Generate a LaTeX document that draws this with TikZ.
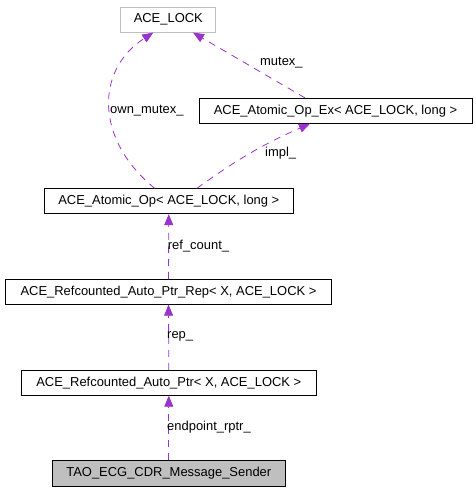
\documentclass[tikz,border=0pt]{standalone}
\usepackage{fontspec}
\setmainfont{Liberation Sans}
\usepackage{xcolor}
\usepackage{tikz}
\usetikzlibrary{arrows.meta}
\definecolor{edgepurple}{HTML}{9A32CD}
\definecolor{boxgray}{HTML}{BFBFBF}

\begin{document}
\begin{tikzpicture}[x=1bp, y=-1bp,
    classbox/.style={draw=black, line width=0.8bp, minimum height=25bp, inner sep=0pt,
      font=\fontsize{13}{15}\selectfont},
    member/.style={draw=edgepurple, line width=0.8bp, dash pattern=on 7bp off 6bp,
      -{Triangle[length=11bp, width=9bp, fill=edgepurple]}},
    lbl/.style={font=\fontsize{13}{15}\selectfont, anchor=west, inner sep=0pt}]

  \useasboundingbox (0,0) rectangle (476,491);

  % Classes
  \node[classbox, draw=boxgray, minimum width=95bp] (lock) at (168.3,19.7) {ACE\_LOCK};
  \node[classbox, minimum width=273bp] (opex) at (335.5,110.8) {ACE\_Atomic\_Op\_Ex< ACE\_LOCK, long >};
  \node[classbox, minimum width=249bp] (op) at (168.8,201.3) {ACE\_Atomic\_Op< ACE\_LOCK, long >};
  \node[classbox, minimum width=326bp] (rep) at (168.5,291.8) {ACE\_Refcounted\_Auto\_Ptr\_Rep< X, ACE\_LOCK >};
  \node[classbox, minimum width=295bp] (ptr) at (168.8,382.8) {ACE\_Refcounted\_Auto\_Ptr< X, ACE\_LOCK >};
  \node[classbox, fill=boxgray, minimum width=233bp, minimum height=26bp] (sender) at (168.8,473.3) {TAO\_ECG\_CDR\_Message\_Sender};

  % Membres
  \draw[member] (sender) -- (ptr);
  \draw[member] (ptr) -- (rep);
  \draw[member] (rep) -- (op);
  \draw[member] ([xshift=-14bp]op.north) .. controls (95,140) and (95,70) .. ([xshift=-15bp]lock.south);
  \draw[member] ([xshift=28bp]op.north) to[bend left=6] ([xshift=-25.5bp]opex.south);
  \draw[member] ([xshift=-30.5bp]opex.north) -- ([xshift=24.7bp]lock.south);

  % Noms
  \node[lbl] (lendpoint) at (167,427) {endpoint\_rptr\_};
  \node[lbl] (lrep) at (167,336.7) {rep\_};
  \node[lbl] (lrefcount) at (167.7,246) {ref\_count\_};
  \node[lbl] (lownmutex) at (110,110.5) {own\_mutex\_};
  \node[lbl] (limpl) at (265,153.5) {impl\_};
  \node[lbl] (lmutex) at (260,63) {mutex\_};
\end{tikzpicture}
\end{document}
